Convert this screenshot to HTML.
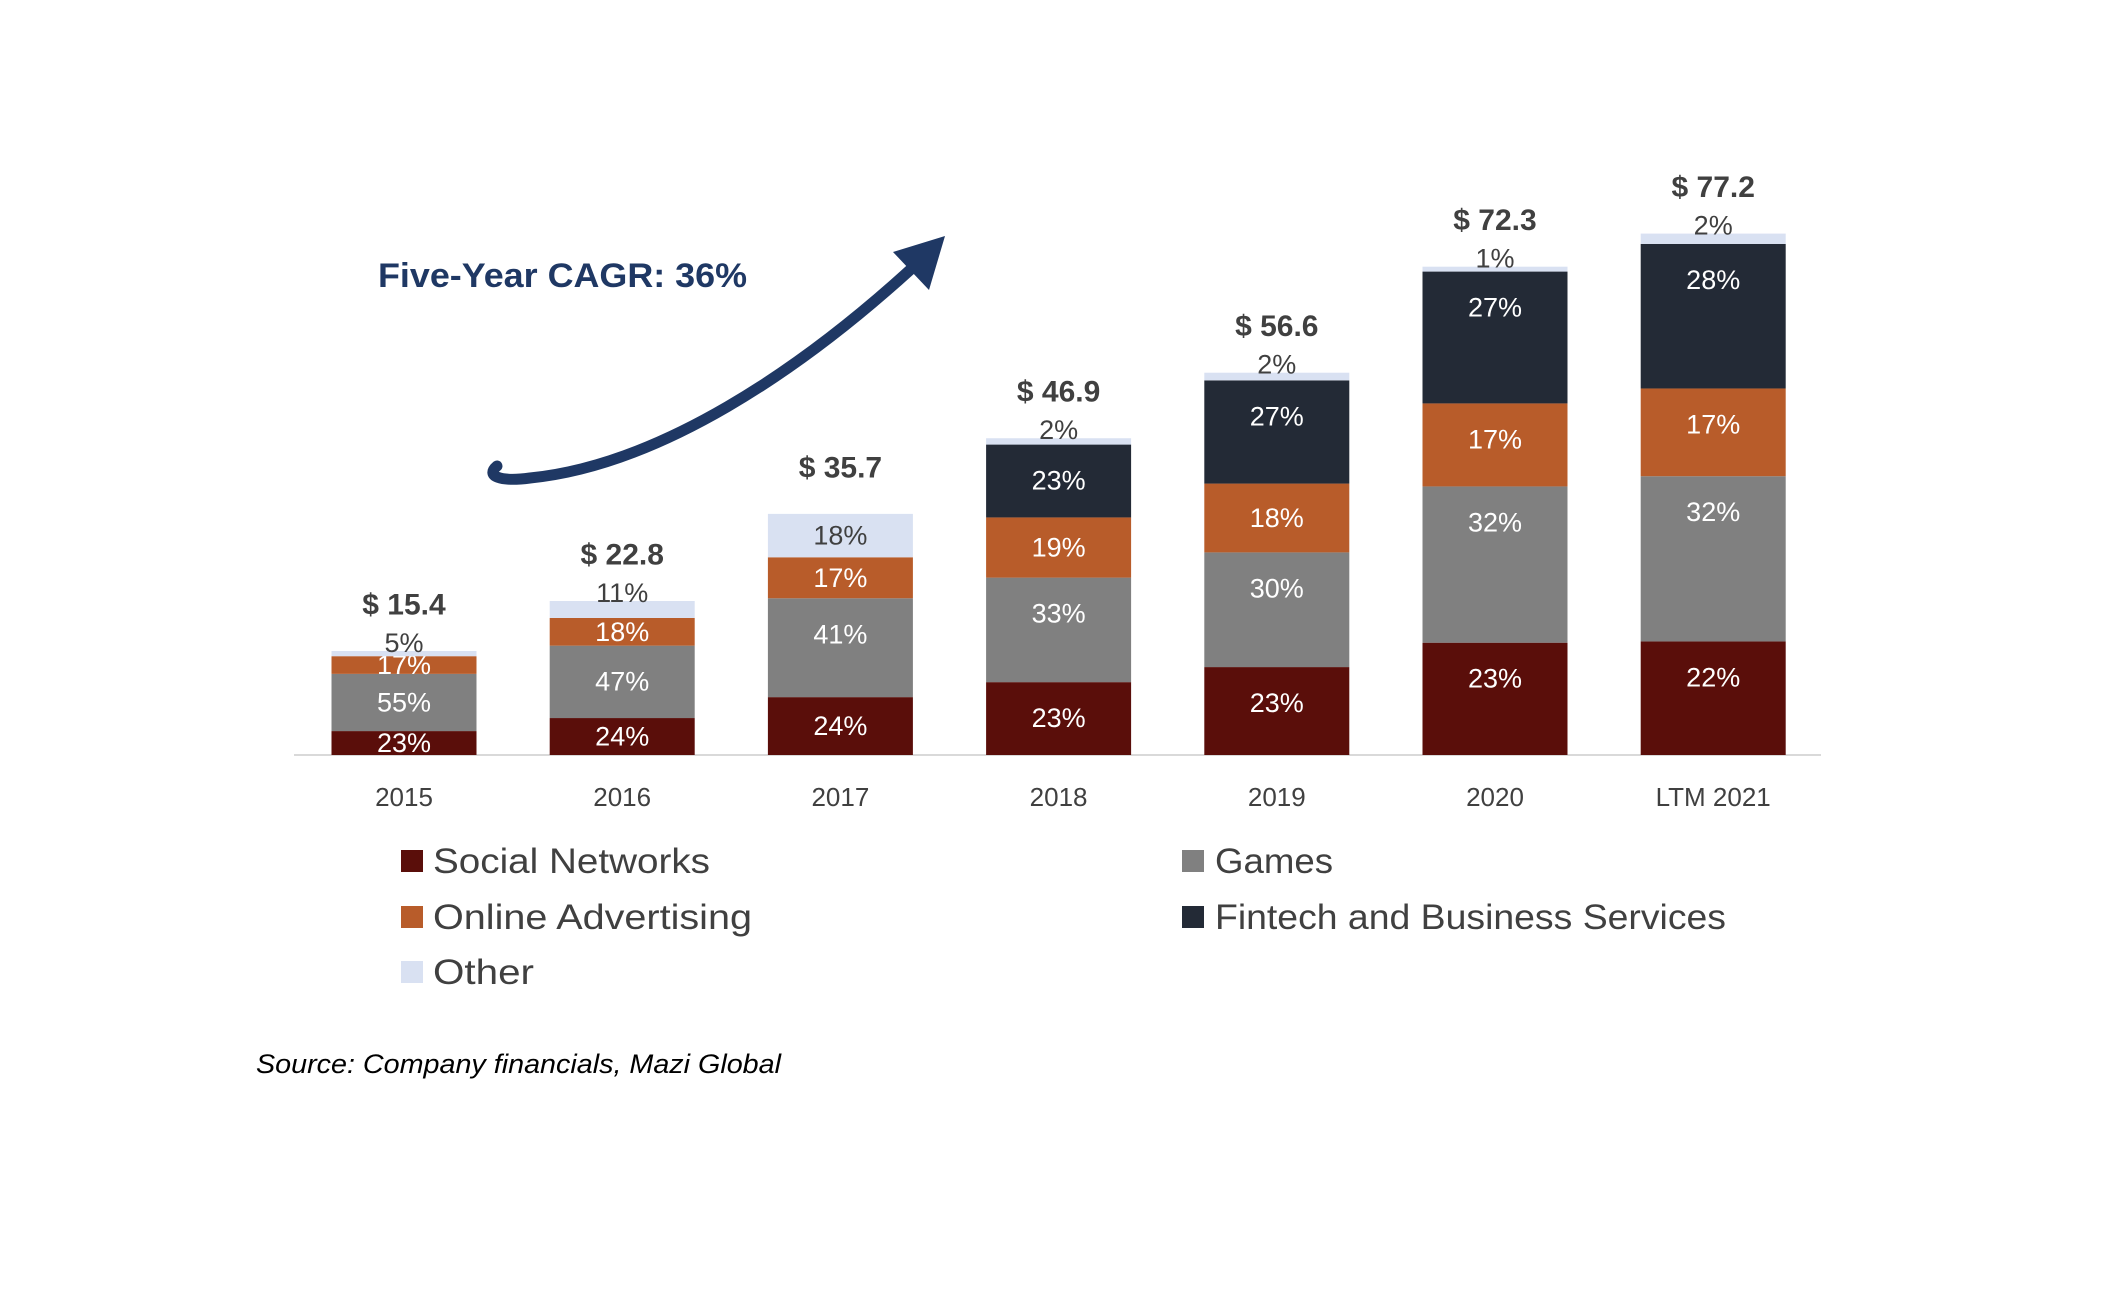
<!DOCTYPE html>
<html><head><meta charset="utf-8"><style>
body{margin:0;background:#fff;}
svg text{font-family:"Liberation Sans",sans-serif;}
</style></head><body>
<svg id="chart" width="2118" height="1294" viewBox="0 0 2118 1294" xmlns="http://www.w3.org/2000/svg">
<rect width="2118" height="1294" fill="#fff"/>
<text x="378" y="287" font-size="34" font-weight="bold" fill="#1f3864" textLength="369" lengthAdjust="spacingAndGlyphs">Five-Year CAGR: 36%</text>
<path d="M 497 466 C 485 476, 500 482, 530 478 C 660 465, 800 370, 910 270" fill="none" stroke="#1f3864" stroke-width="11" stroke-linecap="round"/>
<polygon points="945,236 893,252 929,290" fill="#1f3864"/>
<line x1="294" y1="755" x2="1821" y2="755" stroke="#d9d9d9" stroke-width="2"/>
<g id="bars"></g>
<g>
<rect x="401" y="850" width="22" height="22" fill="#5a0e0a"/>
<text x="433" y="873" font-size="35" fill="#404040" textLength="277" lengthAdjust="spacingAndGlyphs">Social Networks</text>
<rect x="1182" y="850" width="22" height="22" fill="#808080"/>
<text x="1215" y="873" font-size="35" fill="#404040" textLength="118" lengthAdjust="spacingAndGlyphs">Games</text>
<rect x="401" y="906" width="22" height="22" fill="#b85c2a"/>
<text x="433" y="929" font-size="35" fill="#404040" textLength="319" lengthAdjust="spacingAndGlyphs">Online Advertising</text>
<rect x="1182" y="906" width="22" height="22" fill="#232a36"/>
<text x="1215" y="929" font-size="35" fill="#404040" textLength="511" lengthAdjust="spacingAndGlyphs">Fintech and Business Services</text>
<rect x="401" y="961" width="22" height="22" fill="#d9e1f2"/>
<text x="433" y="984" font-size="35" fill="#404040" textLength="101" lengthAdjust="spacingAndGlyphs">Other</text>
</g>
<text x="256" y="1073" font-size="27" font-style="italic" fill="#000" textLength="525" lengthAdjust="spacingAndGlyphs">Source: Company financials, Mazi Global</text>
</svg>
<script>
const categories = ["2015","2016","2017","2018","2019","2020","LTM 2021"];
const totals = [15.4, 22.8, 35.7, 46.9, 56.6, 72.3, 77.2];
const social = [23, 24, 24, 23, 23, 23, 22];
const games = [55, 47, 41, 33, 30, 32, 32];
const advertising = [17, 18, 17, 19, 18, 17, 17];
const fintech = [0, 0, 0, 23, 27, 27, 28];
const other = [5, 11, 18, 2, 2, 1, 2];

const series = [
  {name:"social", vals:social, color:"#5a0e0a"},
  {name:"games", vals:games, color:"#808080"},
  {name:"advertising", vals:advertising, color:"#b85c2a"},
  {name:"fintech", vals:fintech, color:"#232a36"},
  {name:"other", vals:other, color:"#d9e1f2"}
];
const NS = "http://www.w3.org/2000/svg";
const baseY = 755, unit = 6.754, x0 = 404, step = 218.2, bw = 145;
const xC = i => x0 + i*step;
const yV = v => baseY - v*unit;
const g = document.getElementById("bars");
function txt(x,y,s,size,fill,bold){
  const t = document.createElementNS(NS,"text");
  t.setAttribute("x",x); t.setAttribute("y",y);
  t.setAttribute("font-size",size); t.setAttribute("fill",fill);
  t.setAttribute("text-anchor","middle"); t.setAttribute("dominant-baseline","central");
  if(bold) t.setAttribute("font-weight","bold");
  t.textContent = s; g.appendChild(t); return t;
}
categories.forEach((c,i)=>{
  const sum = series.reduce((a,s)=>a+s.vals[i],0);
  let cum = 0;
  series.forEach(s=>{
    const p = s.vals[i];
    if(p<=0) return;
    const v0 = totals[i]*cum/sum, v1 = totals[i]*(cum+p)/sum;
    cum += p;
    const r = document.createElementNS(NS,"rect");
    r.setAttribute("x", xC(i)-bw/2); r.setAttribute("y", yV(v1));
    r.setAttribute("width", bw); r.setAttribute("height", yV(v0)-yV(v1));
    r.setAttribute("fill", s.color);
    
    
    g.appendChild(r);
    let lt;
    const top = yV(v1), mid = (yV(v0)+yV(v1))/2;
    if(s.name==="other"){
      const ly = p>=15 ? Math.min(mid, top+36) : top-8;
      lt = txt(xC(i), ly, p+"%", 27, "#404040");
    } else {
      lt = txt(xC(i), Math.min(mid, top+36), p+"%", 27, "#fff");
    }
    
    
  });
  const tl = txt(xC(i), yV(totals[i])-46, "$ "+totals[i].toFixed(1), 30, "#404040", true);
  
  
  const xl = txt(xC(i), 797, c, 26, "#404040");
  
  
});
</script>
</body></html>
